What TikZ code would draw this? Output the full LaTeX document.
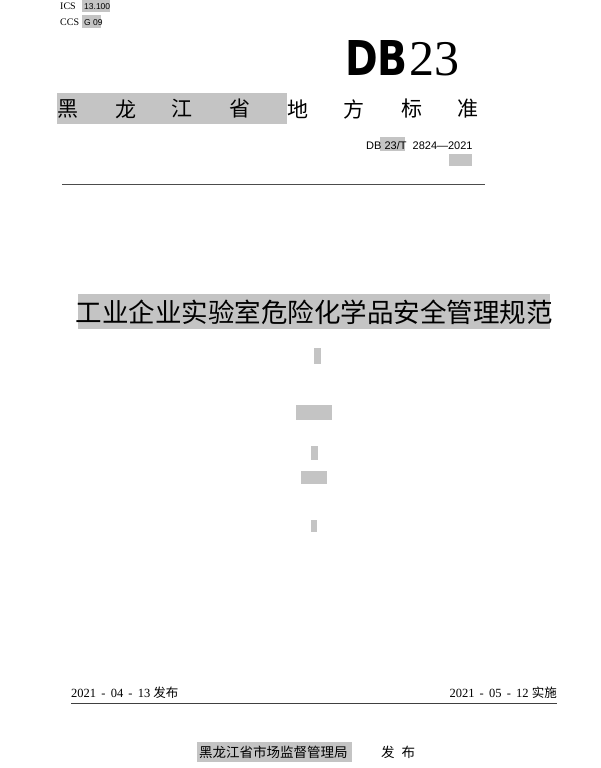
\documentclass[tikz,border=0pt]{standalone}
\usepackage{fontspec}
\setmainfont{Liberation Serif}
\newfontfamily\cjk{Noto Sans CJK SC}
\newfontfamily\sans{Liberation Sans}
\newfontfamily\dejav{DejaVu Sans}
\definecolor{hl}{RGB}{196,196,196}
\tikzset{t/.style={inner sep=0pt,anchor=base west},gbox/.style={fill=hl,draw=none}}
\begin{document}
\begin{tikzpicture}[x=1pt,y=-1pt]
\useasboundingbox (0,0) rectangle (600,768);
% highlights
\fill[hl] (82,0) rectangle (110,12);
\fill[hl] (82,15) rectangle (101,28);
\fill[hl] (57,93) rectangle (287,124);
\fill[hl] (380,137) rectangle (405,151);
\fill[hl] (449,154) rectangle (472,166);
\fill[hl] (78,294) rectangle (550,329);
\fill[hl] (314,348) rectangle (321,364);
\fill[hl] (296,405) rectangle (332,420);
\fill[hl] (311,446) rectangle (318,460);
\fill[hl] (301,471) rectangle (327,484);
\fill[hl] (311,520) rectangle (317,532);
\fill[hl] (197,742) rectangle (352,762);
% top
\node[t,font=\fontsize{10}{10}\selectfont] (ics) at (60,10) {ICS};
\node[t,font=\sans\fontsize{8.5}{8.5}\selectfont] (icsn) at (84,10) {13.100};
\node[t,font=\fontsize{10}{10}\selectfont] (ccs) at (60,26) {CCS};
\node[t,font=\sans\fontsize{8.5}{8.5}\selectfont] (ccsn) at (84,26) {G 09};
\node[t,font=\dejav\bfseries\fontsize{48}{48}\selectfont] (db) at (345,75) {\scalebox{0.82}[1]{DB}};
\node[t,font=\fontsize{50}{50}\selectfont] (n23) at (409,75) {23};
% province line
\foreach \c/\x [count=\i] in {黑/68,龙/126,江/182,省/240,地/298,方/354,标/412,准/468}
  \node[inner sep=0pt,font=\cjk\fontsize{21}{21}\selectfont] (p\i) at (\x,109) {\c};
\node[t,font=\sans\fontsize{11}{11}\selectfont] (code) at (366,149) {DB 23/T\ \ 2824—2021};
\draw[line width=1pt,black!70] (62,184) coordinate (l1a) -- (485,184) coordinate (l1b);
% title
\node[inner sep=0pt,font=\cjk\fontsize{26.5}{27}\selectfont] (title) at (314,312) {工业企业实验室危险化学品安全管理规范};
% dates
\node[t,font=\fontsize{12.5}{12.5}\selectfont] (d1) at (71,697) {2021 \,-\, 04 \,-\, 13 {\cjk 发布}};
\node[inner sep=0pt,anchor=base east,font=\fontsize{12.5}{12.5}\selectfont] (d2) at (557,697) {2021 \,-\, 05 \,-\, 12 {\cjk 实施}};
\draw[line width=0.9pt,black!75] (71,703) coordinate (l2a) -- (557,703) coordinate (l2b);
\node[t,font=\cjk\fontsize{13.5}{13.5}\selectfont] (org) at (199,757) {黑龙江省市场监督管理局};
\node[t,font=\cjk\fontsize{13.5}{13.5}\selectfont] (pub) at (381,757) {发\hspace{7pt}布};
\end{tikzpicture}
\end{document}
